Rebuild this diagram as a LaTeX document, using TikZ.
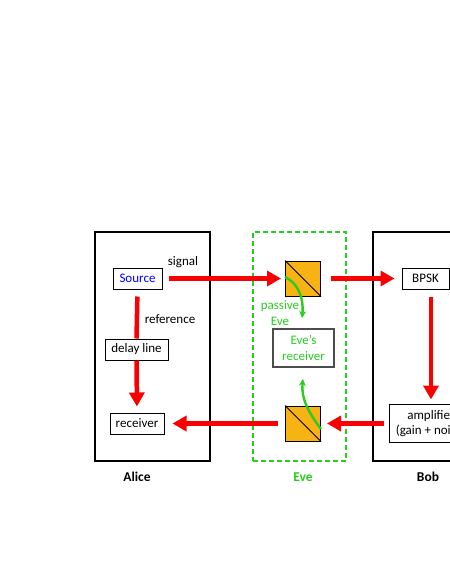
\documentclass[tikz,border=0pt]{standalone}
\usepackage{fontspec}
\setmainfont{Carlito}
\usetikzlibrary{arrows.meta}
\definecolor{evegreen}{RGB}{40,205,30}
\definecolor{bsorange}{RGB}{247,178,20}
\definecolor{sigred}{RGB}{250,0,0}
\begin{document}
\begin{tikzpicture}[x=1pt,y=-1pt,
  every node/.style={font=\fontsize{13}{15.5}\selectfont, inner sep=0pt},
  party/.style={draw=black, line width=1.3pt, rectangle, minimum height=229pt},
  devbox/.style={draw=black, line width=1pt, rectangle, minimum height=21pt},
  bsbox/.style={draw=black, line width=1pt, fill=bsorange, minimum width=35pt, minimum height=35pt},
  redarrow/.style={draw=sigred, line width=4.5pt, -{Triangle[length=14pt,width=15pt]}},
  redline/.style={draw=sigred, line width=4.5pt},
  greenarrow/.style={draw=evegreen, line width=2.4pt, -{Stealth[length=7pt,width=7pt]}},
  lbl/.style={font=\fontsize{13.5}{16}\selectfont\bfseries}
]
\useasboundingbox (0,0) rectangle (450,582);
% parties
\node[party, minimum width=115pt] (alice) at (152.5,346.5) {};
\node[draw=evegreen, line width=1.5pt, dash pattern=on 5pt off 3pt, minimum width=93pt, minimum height=229pt] (evebox) at (299.5,346.5) {};
\node[party, minimum width=97pt] (bob) at (421.5,346.5) {};
% Alice devices
\node[devbox, minimum width=49pt, text=blue] (source) at (137.5,278.5) {Source};
\node[devbox, minimum width=63pt] (delay) at (136.5,349.5) {delay line};
\node[devbox, minimum width=54pt] (recvA) at (137,423.5) {receiver};
% Eve devices
\node[bsbox] (bs1) at (303,278.5) {};
\node[bsbox] (bs2) at (303,423.5) {};
\draw[line width=1pt] (bs1.north west) -- (bs1.south east);
\draw[line width=1pt] (bs2.north west) -- (bs2.south east);
\node[draw=black!70, line width=1.5pt, minimum width=61pt, minimum height=38pt, align=center, text=evegreen] (everecv) at (303.5,348) {Eve’s\\receiver};
% Bob devices
\node[devbox, minimum width=47pt] (bpsk) at (425.5,278.5) {BPSK};
\node[devbox, minimum width=84pt, minimum height=38pt, align=center] (amp) at (431,423.5) {amplifier\\(gain + noise)};
% red connectors
\draw[redarrow, shorten <=6pt, shorten >=4pt] (source.east) -- (bs1.west);
\draw[redline, shorten <=7pt] (source.south) -- (delay.north);
\draw[redarrow, shorten >=6pt] (delay.south) -- (recvA.north);
\draw[redarrow, shorten <=10pt, shorten >=7pt] (bs1.east) -- (bpsk.west);
\draw[redarrow, shorten <=7pt, shorten >=4.5pt] (bpsk.south -| amp.north) -- (amp.north);
\draw[redarrow, shorten <=5pt, shorten >=6pt] (amp.west) -- (bs2.east);
\draw[redarrow, shorten <=7pt, shorten >=8pt] (bs2.west) -- (recvA.east);
% green taps
\coordinate (tap1) at (302,318);
\coordinate (tap2) at (303,379);
\draw[greenarrow] ([yshift=1.5pt]bs1.west) .. controls (298,283) and (304,298) .. (tap1);
\draw[greenarrow] ([yshift=-5.5pt]bs2.east) .. controls (308,412) and (301,398) .. (tap2);
% labels
\node (signal) at (183,262) {signal};
\node (reference) at (170,319) {reference};
\node[text=evegreen, align=center] (passive) at (280,313) {passive\\Eve};
\node[lbl] (alicelbl) at (137,477) {Alice};
\node[lbl, text=evegreen] (evelbl) at (303,477) {Eve};
\node[lbl] (boblbl) at (428,477) {Bob};
\end{tikzpicture}
\end{document}
